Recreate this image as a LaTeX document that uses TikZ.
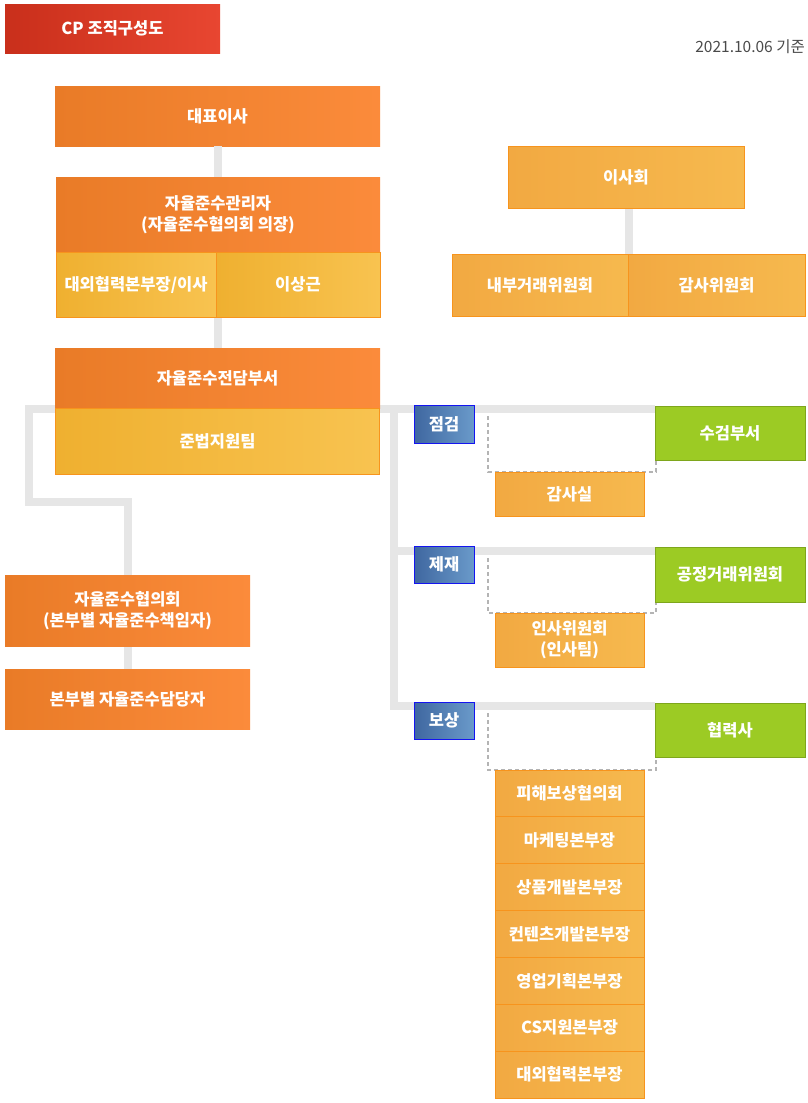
\documentclass[tikz,border=0pt]{standalone}
\usepackage{fontspec}
\setmainfont{Noto Sans CJK KR}
\definecolor{orL}{HTML}{E97B27}
\definecolor{orR}{HTML}{FB8B3B}
\definecolor{yeL}{HTML}{EFB030}
\definecolor{yeR}{HTML}{F8C350}
\definecolor{loL}{HTML}{F2A942}
\definecolor{loR}{HTML}{F6B94E}
\definecolor{obord}{HTML}{F7941D}
\definecolor{grn}{HTML}{9CCB24}
\definecolor{grnB}{HTML}{7EA61C}
\definecolor{blL}{HTML}{3F67A0}
\definecolor{blR}{HTML}{6A9ACA}
\definecolor{blB}{HTML}{1414F0}
\definecolor{conn}{HTML}{E6E6E6}
\definecolor{dsh}{HTML}{B4B4B4}
\definecolor{rdL}{HTML}{C92F1B}
\definecolor{rdR}{HTML}{E84631}
\definecolor{datec}{HTML}{4A4A4A}
\begin{document}
\begin{tikzpicture}[x=1pt,y=-1pt,
  base/.style={inner sep=0pt,outer sep=0pt,text=white,align=center,font=\fontsize{16.5}{21}\selectfont\bfseries},
  obox/.style={base,left color=orL,right color=orR},
  ybox/.style={base,left color=yeL,right color=yeR,draw=obord,line width=1pt},
  lbox/.style={base,left color=loL,right color=loR,draw=obord,line width=1pt},
  gbox/.style={base,fill=grn,draw=grnB,line width=1pt},
  bbox/.style={base,left color=blL,right color=blR,draw=blB,line width=1pt},
  rbox/.style={base,left color=rdL,right color=rdR},
  link/.style={draw=conn,line width=8pt},
  dashbox/.style={draw=dsh,line width=1.2pt,dash pattern=on 4pt off 3pt}]
\useasboundingbox (0,0) rectangle (808,1103);
% title and date
\node[rbox,minimum width=215,minimum height=49] (title) at (112.5,28.5) {CP 조직구성도};
\node[anchor=east,inner sep=0pt,text=datec,font=\fontsize{15.5}{18}\selectfont] (date) at (805,47) {2021.10.06 기준};
% coordinates for the connector tree
\coordinate (jL) at (29,409);
\coordinate (jL2) at (29,502);
\coordinate (jL3) at (128,502);
\coordinate (r1) at (394,409);
\coordinate (r2) at (394,551);
\coordinate (r3) at (394,706);
\coordinate (e1) at (655,409);
\coordinate (e2) at (655,551);
\coordinate (e3) at (655,706);
% dashed boxes
\draw[dashbox] (488,409) rectangle (656,472);
\draw[dashbox] (488,551) rectangle (656,613);
\draw[dashbox] (488,706) rectangle (656,770);
\path (217.5,116) node[obox,minimum width=325,minimum height=60] (ceo) {대표이사};
\path (217.5,378) coordinate (deptc);
\path (626,177) coordinate (boardc);
% connectors
\draw[link] (ceo.south) -- (217.5,348);
\draw[link] (e1) -- (jL) -- (jL2) -- (jL3) -- (128,575);
\draw[link] (128,646) -- (128,669);
\draw[link] (r1) -- (r3) -- (e3);
\draw[link] (r2) -- (e2);
\draw[link] (628.5,208) -- (628.5,254);
% left column
\node[obox,minimum width=324,minimum height=75] (mgr) at (218,214.5) {자율준수관리자\\(자율준수협의회 의장)};
\node[ybox,minimum width=160,minimum height=65] (sub1) at (136,284.5) {대외협력본부장/이사};
\node[ybox,minimum width=164,minimum height=65] (sub2) at (298,284.5) {이상근};
\node[obox,minimum width=325,minimum height=60] (dept) at (deptc) {자율준수전담부서};
\node[ybox,minimum width=324,minimum height=66] (team) at (217.5,441) {준법지원팀};
\node[obox,minimum width=245,minimum height=71] (council) at (127.5,610.5) {자율준수협의회\\(본부별 자율준수책임자)};
\node[obox,minimum width=245,minimum height=60] (staff) at (127.5,699) {본부별 자율준수담당자};
% board group
\node[lbox,minimum width=236,minimum height=62] (board) at (boardc) {이사회};
\node[lbox,minimum width=176,minimum height=62] (internal) at (540,285) {내부거래위원회};
\node[lbox,minimum width=177,minimum height=62] (audit) at (716.5,285) {감사위원회};
% blue labels
\node[bbox,minimum width=60,minimum height=38] (lab1) at (444,424) {점검};
\node[bbox,minimum width=60,minimum height=37] (lab2) at (444,564.5) {제재};
\node[bbox,minimum width=60,minimum height=37] (lab3) at (444,720.5) {보상};
% green boxes
\node[gbox,minimum width=150,minimum height=54] (g1) at (730,433) {수검부서};
\node[gbox,minimum width=150,minimum height=55] (g2) at (730,574.5) {공정거래위원회};
\node[gbox,minimum width=150,minimum height=54] (g3) at (730,730) {협력사};
% sub boxes
\node[lbox,minimum width=149,minimum height=44] (y1) at (569.5,494) {감사실};
\node[lbox,minimum width=149,minimum height=54] (y2) at (569.5,640) {인사위원회\\(인사팀)};
% list
\foreach \t [count=\i] in {피해보상협의회,마케팅본부장,상품개발본부장,컨텐츠개발본부장,영업기획본부장,CS지원본부장,대외협력본부장}{
  \node[lbox,minimum width=149,minimum height=46.86] (li\i) at (569.5,{770+46.86*(\i-0.5)}) {\t};
}
\end{tikzpicture}
\end{document}
